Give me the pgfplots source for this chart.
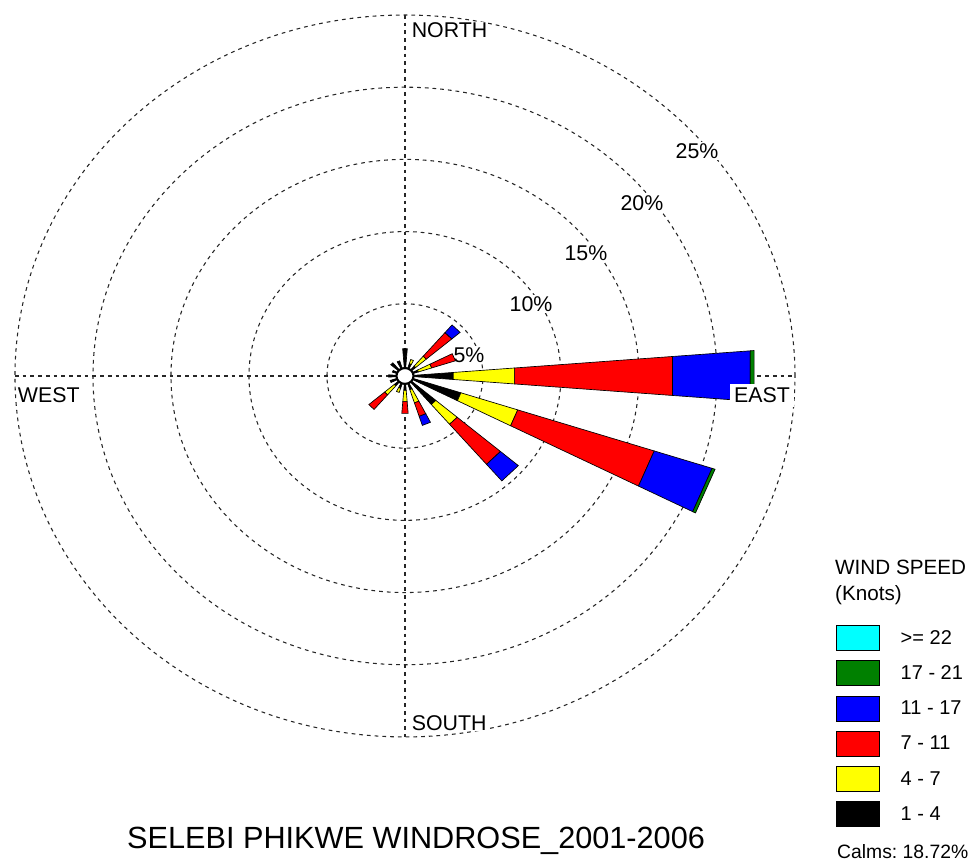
\documentclass[border=0pt]{standalone}
\usepackage{pgfplots}
\pgfplotsset{compat=1.18}
\usepackage{fontspec}
\setmainfont{Liberation Sans}
% one petal segment: angle left, angle right (math degrees), inner radius, outer radius (%), colour
\newcommand{\seg}[5]{\addplot[forget plot, draw=black, line width=0.5pt, fill=#5, data cs=polar] coordinates {(#1,#3) (#2,#3) (#2,#4) (#1,#4) (#1,#3)};}
\definecolor{wcyan}{RGB}{0,255,255}
\definecolor{wgreen}{RGB}{0,128,0}
\definecolor{wblue}{RGB}{0,0,255}
\definecolor{wred}{RGB}{255,0,0}
\definecolor{wyellow}{RGB}{255,255,0}
\begin{document}
\begin{tikzpicture}
\begin{axis}[
  scale only axis, width=735pt, height=647.25pt,
  xmin=-25.96, xmax=36.86, ymin=-33.73, ymax=26.04,
  axis line style={draw=none}, xtick=\empty, ytick=\empty,
  clip=false,
  legend image code/.code={\draw[#1] (0pt,-9.375pt) rectangle (32.25pt,9.375pt);},
  legend style={at={(axis cs:27.63,-17.24)}, anchor=north west, draw=none, fill=none,
    inner sep=0pt, row sep=7.1pt, column sep=15.5pt,
    font=\fontsize{15}{18}\selectfont, nodes={inner sep=0pt}},
  legend cell align=left,
]
\addlegendimage{fill=wcyan, draw=black, line width=0.6pt}\addlegendentry{>= 22}
\addlegendimage{fill=wgreen, draw=black, line width=0.6pt}\addlegendentry{17 - 21}
\addlegendimage{fill=wblue, draw=black, line width=0.6pt}\addlegendentry{11 - 17}
\addlegendimage{fill=wred, draw=black, line width=0.6pt}\addlegendentry{7 - 11}
\addlegendimage{fill=wyellow, draw=black, line width=0.6pt}\addlegendentry{4 - 7}
\addlegendimage{fill=black, draw=black, line width=0.6pt}\addlegendentry{1 - 4}

% grid circles and cross
\begin{scope}[line width=0.8pt, dash pattern=on 2.8pt off 3pt, black!85]
\draw (axis cs:0,0) circle [radius=5];
\draw (axis cs:0,0) circle [radius=10];
\draw (axis cs:0,0) circle [radius=15];
\draw (axis cs:0,0) circle [radius=20];
\draw (axis cs:0,0) circle [radius=25];
\draw (axis cs:0,25) -- (axis cs:0,-25);
\draw (axis cs:-25,0) -- (axis cs:25,0);
\end{scope}

% ring labels
\begin{scope}[every node/.style={fill=white, inner sep=1pt, font=\fontsize{16}{19}\selectfont}]
\node at (axis cs:4.10,1.45) {5\%};
\node at (axis cs:8.08,4.99) {10\%};
\node at (axis cs:11.60,8.52) {15\%};
\node at (axis cs:15.19,11.98) {20\%};
\node at (axis cs:18.72,15.58) {25\%};
\node[anchor=base west, inner sep=0.5pt] at (axis cs:0.38,23.41) {NORTH};
\node[anchor=base west, inner sep=0.5pt] at (axis cs:0.38,-24.52) {SOUTH};
\node[anchor=base west, inner sep=0.5pt, fill=none] at (axis cs:-24.87,-1.87) {WEST};
\end{scope}

% N
\seg{85.5}{94.5}{0.55}{1.9}{black}
% NNE
\seg{63}{72}{0.55}{0.9}{black}
\seg{63}{72}{0.9}{1.2}{wyellow}
% NE
\seg{40.5}{49.5}{0.55}{0.9}{black}
\seg{40.5}{49.5}{0.9}{1.8}{wyellow}
\seg{40.5}{49.5}{1.8}{3.95}{wred}
\seg{40.5}{49.5}{3.95}{4.65}{wblue}
% ENE
\seg{18}{27}{0.55}{0.9}{black}
\seg{18}{27}{0.9}{1.8}{wyellow}
\seg{18}{27}{1.8}{3.4}{wred}
% E
\seg{-4.5}{4.5}{0.55}{3.1}{black}
\seg{-4.5}{4.5}{3.1}{7.05}{wyellow}
\seg{-4.5}{4.5}{7.05}{17.2}{wred}
\seg{-4.5}{4.5}{17.2}{22.2}{wblue}
\seg{-4.5}{4.5}{22.2}{22.45}{wgreen}
% ESE
\seg{-27}{-18}{0.55}{3.77}{black}
\seg{-27}{-18}{3.77}{7.6}{wyellow}
\seg{-27}{-18}{7.6}{16.8}{wred}
\seg{-27}{-18}{16.8}{20.7}{wblue}
\seg{-27}{-18}{20.7}{20.9}{wgreen}
% SE
\seg{-49.5}{-40.5}{0.55}{2.6}{black}
\seg{-49.5}{-40.5}{2.6}{4.4}{wyellow}
\seg{-49.5}{-40.5}{4.4}{8.05}{wred}
\seg{-49.5}{-40.5}{8.05}{9.56}{wblue}
% SSE
\seg{-72}{-63}{0.55}{1.0}{black}
\seg{-72}{-63}{1.0}{1.96}{wyellow}
\seg{-72}{-63}{1.96}{2.94}{wred}
\seg{-72}{-63}{2.94}{3.6}{wblue}
% S
\seg{-94.5}{-85.5}{0.55}{1.0}{black}
\seg{-94.5}{-85.5}{1.0}{1.78}{wyellow}
\seg{-94.5}{-85.5}{1.78}{2.6}{wred}
% SSW
\seg{-117}{-108}{0.55}{0.9}{black}
\seg{-117}{-108}{0.9}{1.2}{wyellow}
% SW
\seg{-139.5}{-130.5}{0.55}{0.9}{black}
\seg{-139.5}{-130.5}{0.9}{1.72}{wyellow}
\seg{-139.5}{-130.5}{1.72}{3.05}{wred}
% WSW
\seg{-162}{-153}{0.55}{1.0}{black}
% W
\seg{175.5}{184.5}{0.55}{1.05}{black}
% WNW
\seg{153}{162}{0.55}{0.85}{black}
% NW
\seg{130.5}{139.5}{0.55}{1.2}{black}
% NNW
\seg{108}{117}{0.55}{1.1}{black}

% calm circle
\draw[fill=white, line width=1.6pt] (axis cs:0,0) circle [radius=0.55];

% EAST label covering the petal
\node[anchor=base west, fill=white, inner sep=3pt, font=\fontsize{16}{19}\selectfont] at (axis cs:20.83,-1.87) {EAST};

% legend heading and calms
\node[anchor=base west, inner sep=0pt, font=\fontsize{15.5}{18}\selectfont] at (axis cs:27.56,-13.78) {WIND SPEED};
\node[anchor=base west, inner sep=0pt, font=\fontsize{15.5}{18}\selectfont] at (axis cs:27.56,-15.58) {(Knots)};
\node[anchor=base west, inner sep=0pt, font=\fontsize{14.5}{17}\selectfont] at (axis cs:27.69,-33.45) {Calms:~18.72\%};

% title
\node[anchor=base, inner sep=0pt, font=\fontsize{23}{27}\selectfont] at (axis cs:0.71,-32.76) {SELEBI PHIKWE WINDROSE\_2001-2006};
\end{axis}
\end{tikzpicture}
\end{document}
